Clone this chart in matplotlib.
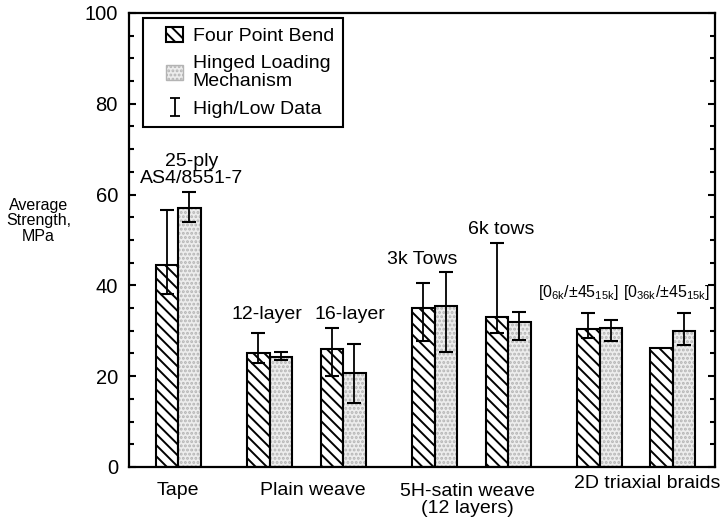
import numpy as np
import matplotlib.pyplot as plt
from matplotlib.patches import Patch
from matplotlib.lines import Line2D
from matplotlib.path import Path
from matplotlib.legend_handler import HandlerPatch, HandlerLine2D

plt.rcParams['font.family'] = ['Liberation Sans', 'DejaVu Sans']
plt.rcParams['mathtext.fontset'] = 'custom'
plt.rcParams['mathtext.rm'] = 'Liberation Sans'
plt.rcParams['mathtext.default'] = 'regular'
plt.rcParams['hatch.linewidth'] = 1.4

# one pair of bars per specimen type
pair_group = [0, 1, 1, 2, 2, 3, 3]
four_point = [44.5, 25.0, 26.0, 35.0, 33.0, 30.3, 26.3]
fp_low = [38.0, 23.0, 20.0, 27.7, 29.5, 28.5, np.nan]
fp_high = [56.5, 29.5, 30.7, 40.5, 49.3, 34.0, np.nan]
hinged = [57.0, 24.3, 20.8, 35.5, 32.0, 30.7, 30.0]
hl_low = [54.0, 23.5, 14.0, 25.3, 28.0, 27.8, 26.8]
hl_high = [60.5, 25.3, 27.0, 43.0, 34.2, 32.4, 34.0]

group_names = ['Tape', 'Plain weave', '5H-satin weave\n(12 layers)', '2D triaxial braids']
pair_notes = ['25-ply\nAS4/8551-7', '12-layer', '16-layer', '3k Tows', '6k tows',
              r'$[0_{6k}/{\pm}45_{15k}]$', r'$[0_{36k}/{\pm}45_{15k}]$']

# pair centres: tighter spacing inside a group, wider between groups
w = 22.5
xs = [49.0]
for i in range(1, len(pair_group)):
    step = 73.5 if pair_group[i] == pair_group[i - 1] else 91.5
    xs.append(xs[-1] + step)
xs = np.array(xs)

dot_face, dot_color = '#ededed', '#b4b4b4'

fig = plt.figure(figsize=(7.22, 5.27), dpi=100)
ax = fig.add_axes([0.1787, 0.1139, 0.8116, 0.8615])

x_fp = xs - w / 2
x_hl = xs + w / 2
ax.bar(x_fp, four_point, w, facecolor='white', edgecolor='black', hatch='\\\\\\', linewidth=1.5, zorder=2)
ax.bar(x_hl, hinged, w, facecolor=dot_face, edgecolor=dot_color, hatch='....', linewidth=0, zorder=2)
ax.bar(x_hl, hinged, w, fill=False, edgecolor='black', linewidth=1.5, zorder=3)

fp = np.array(four_point)
lo, hi = np.array(fp_low), np.array(fp_high)
m = ~np.isnan(lo)
ax.errorbar(x_fp[m], fp[m], yerr=[fp[m] - lo[m], hi[m] - fp[m]], fmt='none',
            ecolor='black', elinewidth=1.3, capsize=5, capthick=1.5, zorder=4)
hl = np.array(hinged)
ax.errorbar(x_hl, hl, yerr=[hl - np.array(hl_low), np.array(hl_high) - hl], fmt='none',
            ecolor='black', elinewidth=1.3, capsize=5, capthick=1.5, zorder=4)

# labels above each pair
note_pos = [(63, 65.4), (138, 33.5), (221, 33.5), (293, 45.8), (372, 52.2), (449, 38.5), (538, 38.5)]
for (tx, ty), note in zip(note_pos, pair_notes):
    size = 11.5 if note.startswith('$') else 14
    ax.text(tx, ty, note, ha='center', va='center', fontsize=size, linespacing=1.0)

# group names under the axis
grp_pos = [(49, -0.051), (184, -0.051), (338, -0.073), (518, -0.037)]
trans = ax.get_xaxis_transform()
for (gx, gy), name in zip(grp_pos, group_names):
    ax.text(gx, gy, name, transform=trans, ha='center', va='center', fontsize=14, linespacing=1.05)

ax.set_xlim(0, 586)
ax.set_ylim(0, 100)
ax.set_yticks(np.arange(0, 101, 20))
ax.set_yticks(np.arange(0, 101, 5), minor=True)
ax.set_xticks([])
ax.tick_params(axis='y', which='both', direction='in', left=True, right=True, labelsize=14.5, width=1.5)
ax.tick_params(axis='y', which='major', length=5, pad=8)
ax.tick_params(axis='y', which='minor', length=3.5)
for s in ax.spines.values():
    s.set_linewidth(1.6)

fig.text(0.053, 0.581, 'Average\nStrength,\nMPa', ha='center', va='center', fontsize=11.5, linespacing=1.05)

# legend with an I-shaped symbol for the high/low data
i_path = Path([(-0.5, 1), (0.5, 1), (0, 1), (0, -1), (-0.5, -1), (0.5, -1)],
              [Path.MOVETO, Path.LINETO, Path.MOVETO, Path.LINETO, Path.MOVETO, Path.LINETO])
h_fp = Patch(facecolor='white', edgecolor='black', hatch='\\\\\\', linewidth=1.5)
h_hl = Patch(facecolor=dot_face, edgecolor=dot_color, hatch='....', linewidth=1.0)
h_err = Line2D([], [], linestyle='none', marker=i_path, markersize=13, markeredgewidth=1.3, color='black')
leg = ax.legend([h_fp, h_hl, h_err], ['Four Point Bend', 'Hinged Loading\nMechanism', 'High/Low Data'],
                loc='upper left', bbox_to_anchor=(0.024, 0.989), borderaxespad=0, fontsize=14,
                frameon=True, fancybox=False, framealpha=1, edgecolor='black', handlelength=1.6,
                handleheight=0.85, handletextpad=0.5, borderpad=0.45, labelspacing=0.5,
                handler_map={Patch: HandlerPatch(xpad=0.75), Line2D: HandlerLine2D(xpad=0.75)})
leg.get_frame().set_linewidth(1.5)
for t in leg.get_texts():
    t.set_linespacing(1.1)

fig.savefig('out.png', dpi=100)
